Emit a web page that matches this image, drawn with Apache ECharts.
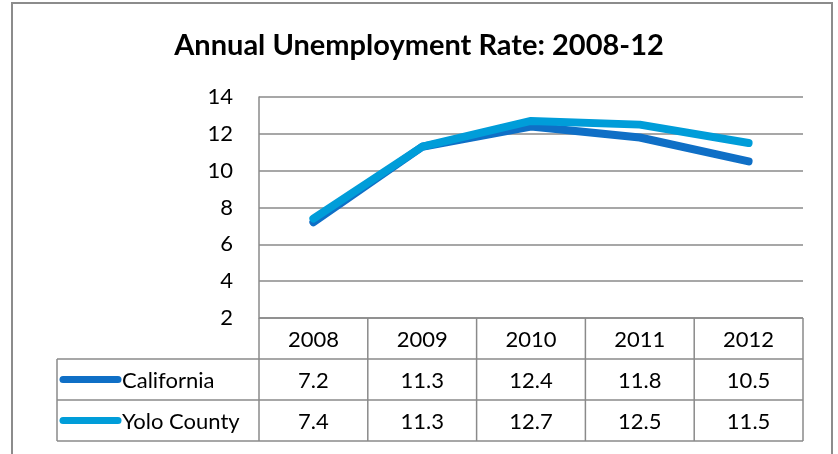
<!DOCTYPE html>
<html><head><meta charset="utf-8">
<script src="https://cdn.jsdelivr.net/npm/echarts@6/dist/echarts.min.js"></script>
<style>html,body{margin:0;padding:0;background:#fff}#c{width:838px;height:454px}</style>
</head><body><div id="c"></div>
<script>
const years = ['2008', '2009', '2010', '2011', '2012'];
const california = [7.2, 11.3, 12.4, 11.8, 10.5];
const yolo = [7.4, 11.3, 12.7, 12.5, 11.5];
const seriesNames = ['California', 'Yolo County'];
const seriesColors = ['#0F6FC6', '#009DD9'];
const titleText = 'Annual Unemployment Rate: 2008-12';

const FONT = 'Lato, "Open Sans", sans-serif';
const GRID = '#8a8a8a';
const chart = echarts.init(document.getElementById('c'), null, {renderer: 'canvas'});

const option = {
  animation: false,
  backgroundColor: '#fff',
  title: {
    text: titleText, left: 'center', top: 26,
    textStyle: {fontFamily: FONT, fontWeight: 'bold', fontSize: 29, color: '#000'}
  },
  grid: {left: 259, right: 35, top: 97, bottom: 136},
  xAxis: {
    type: 'category', data: years, boundaryGap: true,
    axisLine: {show: false}, axisTick: {show: false}, axisLabel: {show: false},
    splitLine: {show: false}
  },
  yAxis: {
    type: 'value', min: 2, max: 14, interval: 2,
    axisLine: {show: true, lineStyle: {color: GRID, width: 1.5}},
    axisTick: {show: false},
    axisLabel: {margin: 26, fontFamily: FONT, fontSize: 22, color: '#000'},
    splitLine: {show: true, lineStyle: {color: GRID, width: 1.5}}
  },
  series: [
    {name: seriesNames[0], type: 'line', data: california, symbol: 'none',
     lineStyle: {color: seriesColors[0], width: 8, cap: 'round', join: 'round'}},
    {name: seriesNames[1], type: 'line', data: yolo, symbol: 'none',
     lineStyle: {color: seriesColors[1], width: 8, cap: 'round', join: 'round'}}
  ]
};
chart.setOption(option);

// Build the data table beneath the plot from the same arrays and axis scale.
const centers = years.map(y => chart.convertToPixel({xAxisIndex: 0}, y));
const colW = centers[1] - centers[0];
const xL = centers[0] - colW / 2;
const xR = centers[centers.length - 1] + colW / 2;
const yTop = chart.convertToPixel({yAxisIndex: 0}, 2);
const rowH = 41;
const legendLeft = 57;
const rowsData = [california, yolo];
const els = [];
const line = (x1, y1, x2, y2) => els.push({type: 'line', shape: {x1, y1, x2, y2}, style: {stroke: GRID, lineWidth: 1.5}, z: 10});
const text = (t, x, y, align) => els.push({type: 'text', x, y, style: {text: t, fill: '#000', font: '22px ' + FONT, align: align || 'center', verticalAlign: 'middle'}, z: 11});

// horizontal lines
line(xL, yTop, xR, yTop);
for (let r = 1; r <= 3; r++) line(legendLeft, yTop + rowH * r, xR, yTop + rowH * r);
// vertical lines
line(legendLeft, yTop + rowH, legendLeft, yTop + rowH * 3);
for (let i = 0; i <= years.length; i++) {
  const x = xL + colW * i;
  line(x, yTop, x, yTop + rowH * 3);
}
years.forEach((y, i) => text(y, centers[i], yTop + rowH / 2 + 1));
rowsData.forEach((arr, r) => {
  const cy = yTop + rowH * (r + 1) + rowH / 2 + 1;
  arr.forEach((v, i) => text(v.toFixed(1), centers[i], cy));
  els.push({type: 'line', shape: {x1: legendLeft + 6, y1: cy - 1, x2: legendLeft + 61, y2: cy - 1},
    style: {stroke: seriesColors[r], lineWidth: 7, lineCap: 'round'}, z: 11});
  text(seriesNames[r], legendLeft + 65, cy, 'left');
});
// outer chart frame
els.push({type: 'rect', shape: {x: 12, y: 3, width: 820, height: 470}, style: {fill: null, stroke: '#8c8c8c', lineWidth: 2}, z: 12});
chart.setOption({graphic: {elements: els}});
</script>
</body></html>
